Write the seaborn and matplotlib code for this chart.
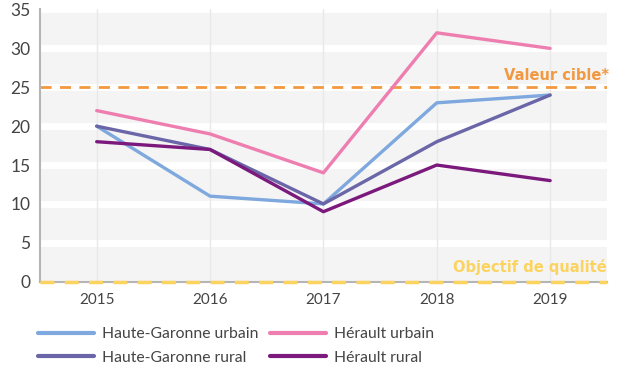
import matplotlib
matplotlib.use("Agg")
import matplotlib.pyplot as plt
import seaborn as sns
import pandas as pd

years = ["2015", "2016", "2017", "2018", "2019"]
hg_urbain = [20, 11, 10, 23, 24]
herault_urbain = [22, 19, 14, 32, 30]
hg_rural = [20, 17, 10, 18, 24]
herault_rural = [18, 17, 9, 15, 13]
series_names = ["Haute-Garonne urbain", "Hérault urbain",
                "Haute-Garonne rural", "Hérault rural"]
valeur_cible = 25
objectif_qualite = 0
y_ticks = [0, 5, 10, 15, 20, 25, 30, 35]

colors = ["#7ea8de", "#ee7eb0", "#6a66a8", "#7b1a7c"]

rows = []
for name, vals in zip(series_names, [hg_urbain, herault_urbain, hg_rural, herault_rural]):
    for i, (y, v) in enumerate(zip(years, vals)):
        rows.append({"idx": i, "année": y, "valeur": v, "série": name})
df = pd.DataFrame(rows)

sns.set_theme(style="white")
plt.rcParams["font.family"] = ["Lato", "DejaVu Sans"]

fig = plt.figure(figsize=(6.23, 3.68), dpi=100)
ax = fig.add_axes([0.0642, 0.2345, 0.9098, 0.7397])
ax.set_facecolor("#f4f4f4")

sns.lineplot(data=df, x="idx", y="valeur", hue="série", hue_order=series_names,
             palette=colors, linewidth=2.4, ax=ax, legend=True, zorder=3)

ax.set_xlim(-0.5, 4.5)
ax.set_ylim(0, 35)
ax.set_xticks(range(len(years)))
ax.set_xticklabels(years)
ax.set_yticks(y_ticks)
ax.set_xlabel("")
ax.set_ylabel("")

# horizontal white bands and light vertical guides
for t in y_ticks[1:]:
    ax.axhline(t, color="white", linewidth=5, zorder=1)
for i in range(len(years)):
    ax.axvline(i, color="#e9e9e9", linewidth=1, zorder=1)

# reference thresholds
ax.axhline(valeur_cible, color="#f29840", linewidth=2, linestyle=(0, (4, 3)), zorder=2)
ax.axhline(objectif_qualite, color="#fbd35e", linewidth=2.5, linestyle=(0, (4, 3)),
           zorder=4, clip_on=False)
ax.text(4.52, valeur_cible + 0.5, "Valeur cible*", color="#f29840", fontsize=10.5,
        fontweight="bold", ha="right", va="bottom", family="DejaVu Sans")
ax.text(4.5, objectif_qualite + 0.9, "Objectif de qualité", color="#fbd35e", fontsize=10.5,
        fontweight="bold", ha="right", va="bottom", family="DejaVu Sans")

for side in ["top", "right"]:
    ax.spines[side].set_visible(False)
for side in ["left", "bottom"]:
    ax.spines[side].set_color("#b5b5b5")
    ax.spines[side].set_linewidth(1.5)
ax.tick_params(axis="y", direction="in", length=10, width=1.5, color="#c0c0c0",
               labelsize=12.5, labelcolor="#444444", pad=7)
ax.tick_params(axis="x", length=0, labelsize=11, labelcolor="#444444", pad=8)

handles, labels = ax.get_legend_handles_labels()
lookup = dict(zip(labels, handles))
order = ["Haute-Garonne urbain", "Haute-Garonne rural", "Hérault urbain", "Hérault rural"]
leg = ax.legend([lookup[n] for n in order], order, loc="upper left",
                bbox_to_anchor=(-0.015, -0.145), ncol=2, frameon=False, fontsize=11.3,
                handlelength=3.6, columnspacing=0.7, handletextpad=0.5,
                labelspacing=0.6, borderaxespad=0)
for line in leg.get_lines():
    line.set_linewidth(3)
for txt in leg.get_texts():
    txt.set_color("#444444")

fig.savefig("out.png", dpi=100)
